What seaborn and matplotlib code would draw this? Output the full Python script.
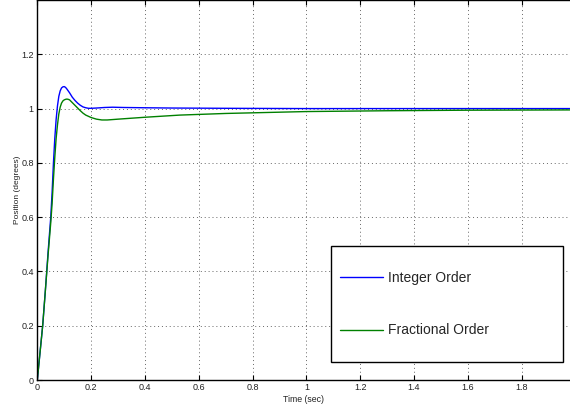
import matplotlib
matplotlib.use("Agg")
import matplotlib.pyplot as plt
from matplotlib.patches import Rectangle
import seaborn as sns
import pandas as pd

# ---- data ----
t_integer = [0, 0.01, 0.02, 0.03, 0.04, 0.05, 0.055, 0.06, 0.065, 0.07, 0.075, 0.08,
             0.085, 0.09, 0.095, 0.10, 0.105, 0.11, 0.12, 0.13, 0.14, 0.15, 0.16, 0.17,
             0.18, 0.19, 0.20, 0.22, 0.25, 0.28, 0.32, 0.4, 0.5, 0.7, 1.0, 1.5, 1.98]
y_integer = [0, 0.10, 0.20, 0.33, 0.47, 0.60, 0.69, 0.80, 0.89, 0.96, 1.01, 1.045,
             1.065, 1.076, 1.080, 1.081, 1.078, 1.072, 1.058, 1.042, 1.030, 1.020, 1.012, 1.006,
             1.003, 1.001, 1.001, 1.002, 1.004, 1.005, 1.004, 1.003, 1.002, 1.001, 1.0, 1.0, 1.0]

t_fractional = [0, 0.01, 0.02, 0.03, 0.04, 0.05, 0.055, 0.06, 0.065, 0.07, 0.075, 0.08,
                0.085, 0.09, 0.095, 0.10, 0.105, 0.11, 0.115, 0.12, 0.13, 0.14, 0.15, 0.16,
                0.17, 0.18, 0.2, 0.22, 0.24, 0.26, 0.3, 0.4, 0.53, 0.7, 1.0, 1.3, 1.6, 1.98]
y_fractional = [0, 0.10, 0.20, 0.33, 0.46, 0.58, 0.65, 0.74, 0.82, 0.89, 0.94, 0.98,
                1.005, 1.02, 1.028, 1.032, 1.034, 1.035, 1.034, 1.032, 1.022, 1.012, 1.002, 0.992,
                0.983, 0.976, 0.967, 0.961, 0.958, 0.958, 0.961, 0.968, 0.976, 0.982, 0.989, 0.992, 0.994, 0.995]

series_names = ["Integer Order", "Fractional Order"]
series_colors = ["#0000ff", "#008000"]

x_ticks = [0, 0.2, 0.4, 0.6, 0.8, 1.0, 1.2, 1.4, 1.6, 1.8]
x_tick_labels = ["0", "0.2", "0.4", "0.6", "0.8", "1", "1.2", "1.4", "1.6", "1.8"]
y_ticks = [0, 0.2, 0.4, 0.6, 0.8, 1.0, 1.2]
y_tick_labels = ["0", "0.2", "0.4", "0.6", "0.8", "1", "1.2"]

df = pd.concat([
    pd.DataFrame({"Time": t_integer, "Position": y_integer, "Series": series_names[0]}),
    pd.DataFrame({"Time": t_fractional, "Position": y_fractional, "Series": series_names[1]}),
], ignore_index=True)

sns.set_theme(style="white")
plt.rcParams["font.family"] = ["Liberation Sans", "DejaVu Sans"]

fig = plt.figure(figsize=(5.70, 4.08), dpi=100)
ax = fig.add_axes([37.3 / 570, 28 / 408, (570 - 37.3) / 570, 380 / 408])

sns.lineplot(data=df, x="Time", y="Position", hue="Series", hue_order=series_names,
             palette=dict(zip(series_names, series_colors)), linewidth=1.0,
             estimator=None, sort=True, ax=ax)

ax.set_xlim(0, 1.98)
ax.set_ylim(0, 1.4)
ax.set_xticks(x_ticks)
ax.set_xticklabels(x_tick_labels)
ax.set_yticks(y_ticks)
ax.set_yticklabels(y_tick_labels)

ax.grid(True, linestyle=(0, (1, 3)), color="0.4", linewidth=0.7)
for side in ["left", "bottom", "top"]:
    ax.spines[side].set_visible(True)
    ax.spines[side].set_color("black")
    ax.spines[side].set_linewidth(1.0)
ax.spines["right"].set_visible(False)

ax.tick_params(axis="both", which="major", direction="in", length=3.5, width=0.8,
               colors="black", labelsize=6.5, top=True, bottom=True, left=True, right=False,
               pad=2.5)
for lab in ax.get_xticklabels() + ax.get_yticklabels():
    lab.set_color("#222222")

ax.set_xlabel("Time (sec)", fontsize=6.3, labelpad=1.5, color="#222222")
ax.set_ylabel("Position (degrees)", fontsize=6.0, labelpad=0.5, color="#222222")

# legend box drawn as a frame, entries placed inside it
box = Rectangle((0.551, 0.048), 0.435, 0.3045, transform=ax.transAxes,
                facecolor="white", edgecolor="black", linewidth=1.0, zorder=4)
ax.add_patch(box)

leg = ax.legend(loc="center left", bbox_to_anchor=(0.568, 0.1995),
                borderaxespad=0, frameon=False, fontsize=10,
                handlelength=3.07, handletextpad=0.38,
                labelspacing=2.78, borderpad=0)
leg.set_zorder(5)
for line in leg.get_lines():
    line.set_linewidth(1.0)

fig.savefig("out.png", dpi=100)
